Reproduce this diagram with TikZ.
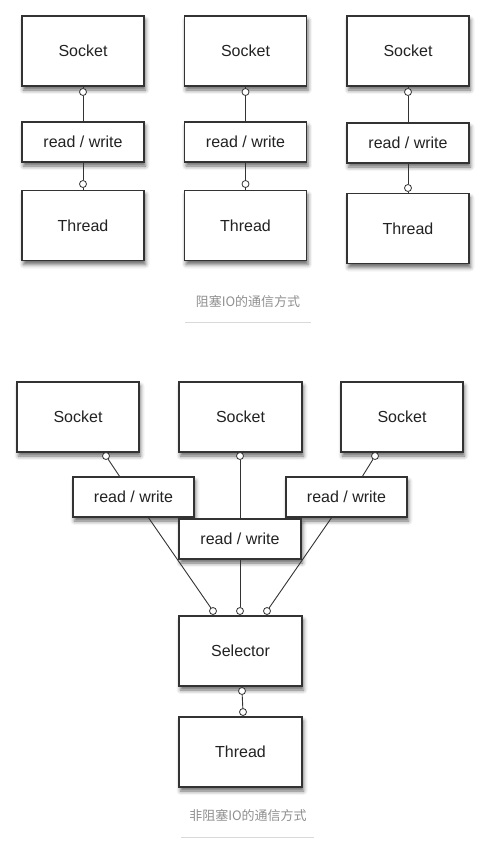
\documentclass[tikz,border=0pt]{standalone}
\usepackage{fontspec}
\setmainfont{Liberation Sans}
\newfontfamily\cjk{Noto Sans CJK SC}
\usetikzlibrary{shadows.blur}
\definecolor{txt}{HTML}{222222}
\definecolor{cap}{HTML}{8F8F8F}
\definecolor{edge}{HTML}{333333}
\begin{document}
\begin{tikzpicture}[x=1pt,y=-1pt,
  box/.style={draw=edge, fill=white, line width=1.2pt, inner sep=0pt,
    minimum width=122pt, minimum height=70pt, text=txt, font=\fontsize{16}{18}\selectfont,
    blur shadow={shadow xshift=1.5pt, shadow yshift=-4pt, shadow blur radius=4pt, shadow opacity=60}},
  rwbox/.style={box, minimum height=40pt},
  port/.style={circle, draw=edge, fill=white, line width=0.8pt, inner sep=0pt, minimum size=7pt},
  link/.style={draw=edge, line width=0.9pt},
  caption/.style={text=cap, font=\cjk\fontsize{13}{15}\selectfont, inner sep=0pt},
  rule/.style={draw=black!15, line width=0.8pt}]
\useasboundingbox (0,0) rectangle (487,857);
% ---------- blocking IO ----------
\foreach \i/\x/\dy in {1/83/0, 2/245.5/0, 3/408/2} {
  \node[box] (ts\i) at (\x,51) {Socket};
  \node[rwbox] (trw\i) at (\x,142+\dy*0.5) {read / write};
  \node[box] (tth\i) at (\x,225.5+\dy*1.5) {Thread};
  \node[port] (tpa\i) at (\x,92) {};
  \node[port] (tpb\i) at (\x,184+\dy*2) {};
  \draw[link] (ts\i) -- (tpa\i);
  \draw[link] (tpa\i) -- (trw\i);
  \draw[link] (trw\i) -- (tpb\i);
  \draw[link] (tpb\i) -- (tth\i);
}
\node[caption] (cap1) at (248,302) {阻塞IO的通信方式};
\coordinate (u1a) at (185,322);
\coordinate (u1b) at (311,322);
\draw[rule] (u1a) -- (u1b);
% ---------- non-blocking IO ----------
\node[box] (bs1) at (78,417) {Socket};
\node[box, minimum width=123pt] (bs2) at (240.5,417) {Socket};
\node[box] (bs3) at (402,417) {Socket};
\node[rwbox, minimum width=121pt] (brw1) at (133.5,497) {read / write};
\node[rwbox, minimum width=121pt] (brw3) at (346.5,497) {read / write};
\node[rwbox] (brw2) at (240,539) {read / write};
\node[box, minimum width=123pt] (sel) at (240.5,651) {Selector};
\node[box, minimum width=123pt] (bth) at (240.5,752) {Thread};
% ports
\node[port] (sp1) at (106,456) {};
\node[port] (sp2) at (240,456) {};
\node[port] (sp3) at (375,456) {};
\node[port] (q1) at (213,611) {};
\node[port] (q2) at (240,611) {};
\node[port] (q3) at (267,611) {};
\node[port] (qa) at (242,691) {};
\node[port] (qb) at (243,712) {};
% connection points on the read/write boxes
\coordinate (r1t) at (120,477);
\coordinate (r1b) at (148,517);
\coordinate (r3t) at (362,477);
\coordinate (r3b) at (332,517);
\draw[link] (sp1) -- (r1t);
\draw[link] (r1b) -- (q1);
\draw[link] (sp2) -- (brw2);
\draw[link] (brw2) -- (q2);
\draw[link] (sp3) -- (r3t);
\draw[link] (r3b) -- (q3);
\draw[link] (sel) -- (qa);
\draw[link] (qa) -- (qb);
\draw[link] (qb) -- (bth);
\node[caption] (cap2) at (248,816) {非阻塞IO的通信方式};
\coordinate (u2a) at (181,837);
\coordinate (u2b) at (314,837);
\draw[rule] (u2a) -- (u2b);
\end{tikzpicture}
\end{document}
